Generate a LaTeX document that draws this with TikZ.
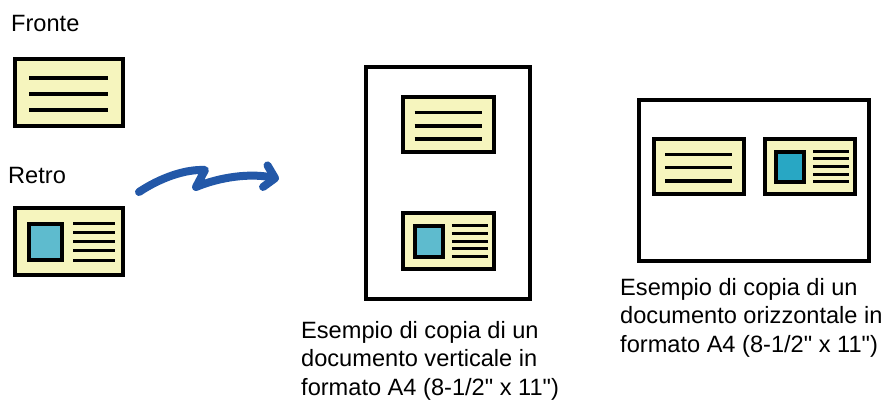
\documentclass[tikz,border=0pt]{standalone}
\usepackage{fontspec}
\setmainfont{Liberation Sans}
\usepackage{tikz}
\usetikzlibrary{arrows.meta}
\definecolor{CardYellow}{RGB}{246,245,190}
\definecolor{PhotoBlue}{RGB}{94,187,206}
\definecolor{PhotoTeal}{RGB}{40,167,196}
\definecolor{ArrowBlue}{RGB}{35,88,168}

\tikzset{
  cardframe/.style={draw=black, line width=4pt, fill=CardYellow},
  textline/.style={black, line width=3.5pt},
  pageframe/.style={draw=black, line width=4pt, fill=white},
  captiontext/.style={inner sep=0pt, font=\fontsize{23.6}{28.5}\selectfont},
  flowarrow/.style={ArrowBlue, line width=8pt, line cap=round, line join=round,
                    -{Straight Barb[round, length=10pt, width=22pt]}},
  % card with text only
  frontcard/.pic={
    \draw[cardframe] (2,2) rectangle (110,69);
    \foreach \y in {21,37,53}
      \draw[textline] (16,\y) -- (95,\y);
  },
  % card with photo and text; #1 = photo colour
  backcard/.pic={
    \draw[cardframe] (2,2) rectangle (110,69);
    \draw[draw=black, line width=4pt, fill=#1] (16,18) rectangle (49,54);
    \foreach \y in {17,26.3,35.6,44.9,54.2}
      \draw[textline, line width=3pt] (60,\y) -- (102,\y);
  },
}

\begin{document}
\begin{tikzpicture}[x=1pt, y=-1pt]
\useasboundingbox (0,0) rectangle (885,402);

% Original: front and back
\node[captiontext, anchor=base west] (fronte) at (11,31) {Fronte};
\pic at (13,57) {frontcard};
\node[captiontext, anchor=base west] (retro) at (8,183) {Retro};
\pic at (13,206) {backcard=PhotoBlue};

% Arrow
\coordinate (arrowstart) at (139,192);
\coordinate (arrowpeak) at (205,170);
\coordinate (arrowdip) at (196,187);
\coordinate (arrowend) at (279,179);
\draw[flowarrow] (arrowstart) .. controls (160,178) and (185,169) .. (arrowpeak)
  -- (arrowdip) .. controls (220,177) and (250,173) .. (arrowend);

% Portrait page
\draw[pageframe] (366,67) rectangle (530,299);
\pic[xscale=0.848, yscale=0.831] at (401,95) {frontcard};
\pic[xscale=0.848, yscale=0.845] at (401,211) {backcard=PhotoBlue};
\node[captiontext, anchor=north west, align=left] (captionV) at (301,321)
  {Esempio di copia di un\\documento verticale in\\formato A4 (8-1/2\textquotedbl{} x 11\textquotedbl)};

% Landscape page
\draw[pageframe] (639,100) rectangle (869,261);
\pic[xscale=0.84, yscale=0.83] at (652,137) {frontcard};
\pic[xscale=0.84, yscale=0.83] at (763,137) {backcard=PhotoTeal};
\node[captiontext, anchor=north west, align=left] (captionH) at (620,278)
  {Esempio di copia di un\\documento orizzontale in\\formato A4 (8-1/2\textquotedbl{} x 11\textquotedbl)};

\end{tikzpicture}
\end{document}
